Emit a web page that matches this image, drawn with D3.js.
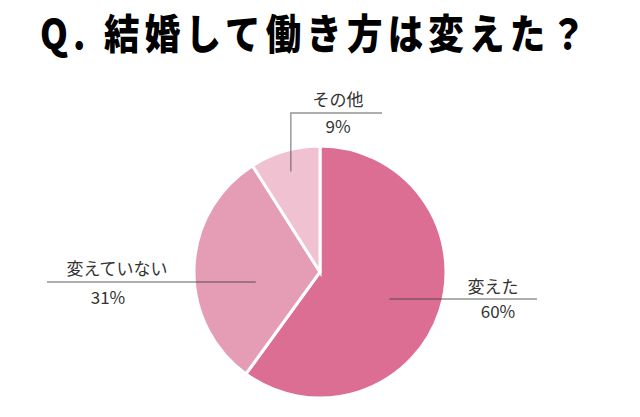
<!DOCTYPE html>
<html><head><meta charset="utf-8">
<script src="https://cdn.jsdelivr.net/npm/d3@7"></script>
<style>
html,body{margin:0;padding:0;background:#fff;}
svg{display:block;}
</style></head>
<body>
<svg id="c" width="640" height="417"></svg>
<script>
const title = "Q. 結婚して働き方は変えた？";
const categories = ["変えた", "変えていない", "その他"];
const values = [60, 31, 9];
const colors = ["#dc6e93", "#e59db5", "#f0c1d1"];

const svg = d3.select("#c");
const cx = 320, cy = 272, R = 126;

const tg = svg.append("g");
const tt = tg.append("text")
  .attr("x", 0).attr("y", 0)
  .attr("font-family", "'Noto Sans CJK JP', sans-serif")
  .attr("font-weight", 900)
  .attr("font-size", 41)
  .attr("letter-spacing", 6)
  .attr("fill", "#000")
  .text(title);
const tw = tt.node().getComputedTextLength() - 6;
const sx0 = 546 / tw;
tg.attr("transform", `translate(40,49) scale(${sx0},1)`);

const data = categories.map((c, i) => ({cat: c, val: values[i], color: colors[i]}));
const pie = d3.pie().value(d => d.val).sort(null);
const arcs = pie(data);
const arc = d3.arc().innerRadius(0).outerRadius(R);

const g = svg.append("g").attr("transform", `translate(${cx},${cy})`);
g.selectAll("path").data(arcs).enter().append("path")
  .attr("d", arc)
  .attr("fill", d => d.data.color)
  .attr("stroke", "#fff")
  .attr("stroke-width", 3)
  .attr("stroke-linejoin", "miter");

// label layout (positions only, not data)
const layout = [
  {rf: 0.58, lineTo: [537, 299], tx: 493, ty1: 293, ty2: 318, px: 498},
  {rf: 0.51, lineTo: [47, 282], tx: 117, ty1: 275, ty2: 304, px: 108},
  {rf: 0.83, elbow: true, lineTo: [382, 113], tx: 338, ty1: 106, ty2: 133, px: 338}
];

const lg = svg.append("g");
arcs.forEach((a, i) => {
  const L = layout[i];
  const mid = (a.startAngle + a.endAngle) / 2;
  const r = R * L.rf;
  const sx = cx + r * Math.sin(mid), sy = cy - r * Math.cos(mid);
  const pts = L.elbow ? [[sx, sy], [sx, L.lineTo[1]], L.lineTo] : [[sx, L.lineTo[1]], L.lineTo];
  lg.append("path")
    .attr("d", d3.line()(pts))
    .attr("fill", "none")
    .attr("stroke", "rgba(60,60,60,0.55)")
    .attr("stroke-width", 1.4);
  lg.append("text")
    .attr("x", L.tx).attr("y", L.ty1)
    .attr("text-anchor", "middle")
    .attr("font-family", "'Noto Sans CJK JP', sans-serif")
    .attr("font-weight", 400)
    .attr("font-size", 17)
    .attr("fill", "#333")
    .text(a.data.cat);
  lg.append("text")
    .attr("x", L.px).attr("y", L.ty2)
    .attr("text-anchor", "middle")
    .attr("font-family", "'Noto Sans CJK JP', sans-serif")
    .attr("font-weight", 400)
    .attr("font-size", 17)
    .attr("fill", "#333")
    .text(a.data.val + "%");
});
</script>
</body></html>
